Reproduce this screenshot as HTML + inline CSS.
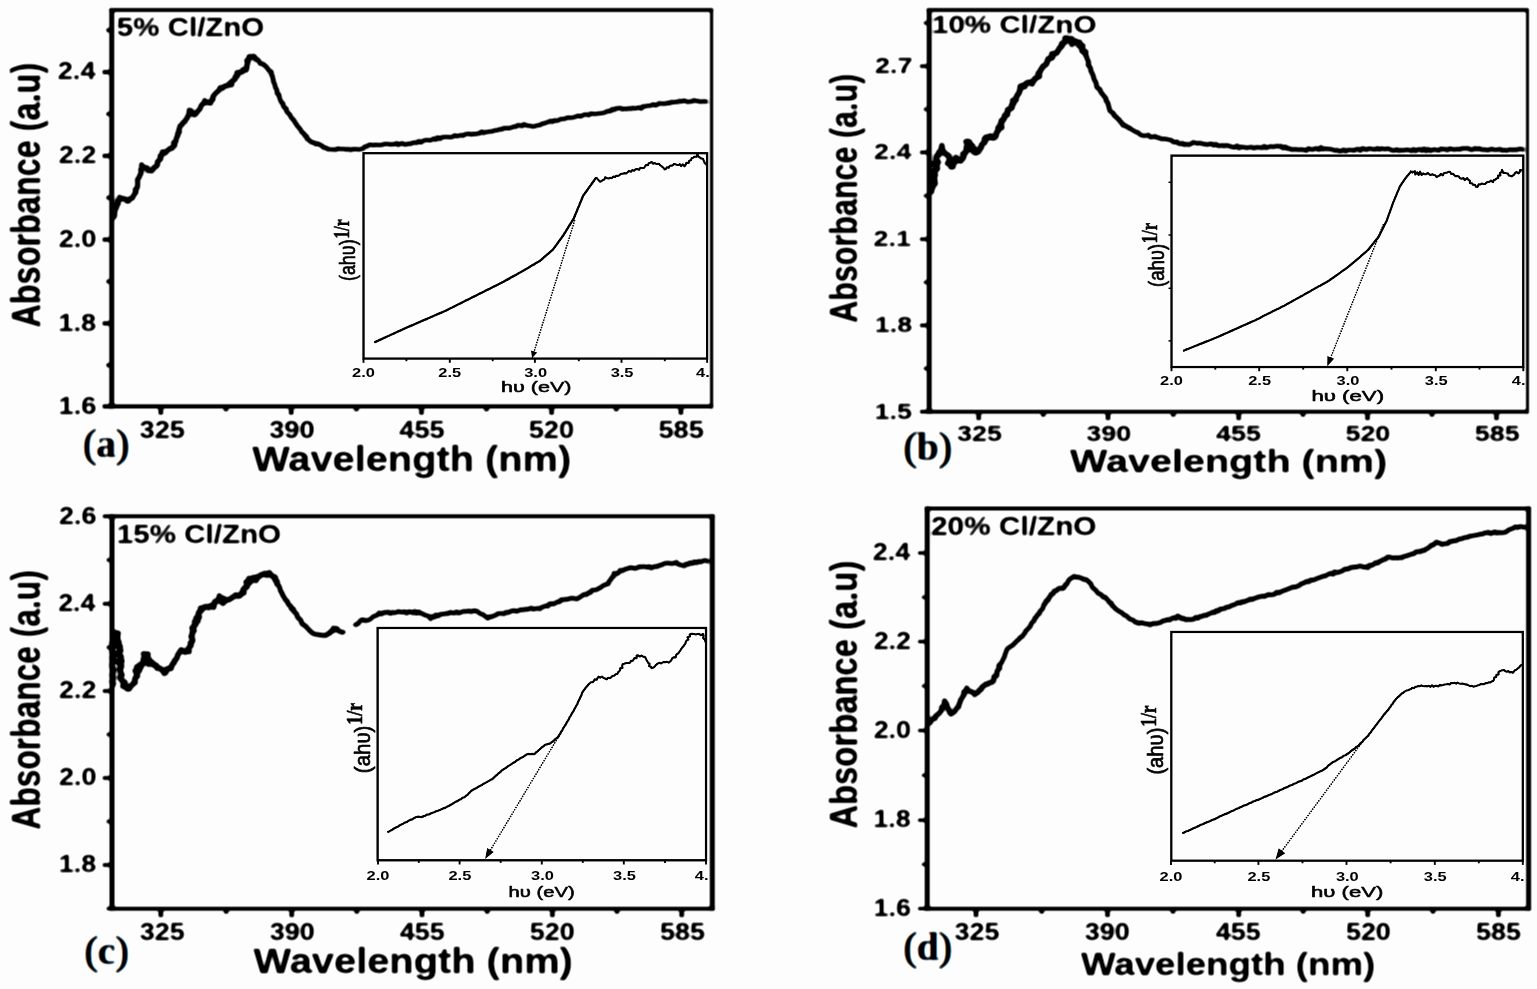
<!DOCTYPE html>
<html lang="en">
<head>
<meta charset="utf-8">
<title>UV-Vis absorbance spectra of Cl/ZnO</title>
<style>
html,body{margin:0;padding:0;background:#fdfdfd;}
body{width:1537px;height:989px;overflow:hidden;}
svg{display:block;}
text{white-space:pre;}
</style>
</head>
<body>
<svg width="1537" height="989" viewBox="0 0 1537 989">

<rect x="0" y="0" width="1537" height="989" fill="#fdfdfd"/>
<g style="filter:blur(0.9px) contrast(1.65)">
<rect x="-5" y="-5" width="1547" height="999" fill="#fdfdfd"/>
<g id="panel-a">
<polyline points="113.0,218.1 114.5,216.3 114.7,214.0 114.7,211.7 115.2,209.6 116.5,207.7 116.7,205.4 118.4,203.7 117.5,201.1 119.1,199.3 119.6,197.2 121.4,198.9 123.4,198.4 125.3,199.1 126.9,201.1 128.8,201.1 129.7,198.7 132.4,198.1 133.4,196.0 134.5,194.0 136.1,192.2 135.1,189.6 137.2,188.0 137.6,186.0 137.6,183.8 137.7,181.7 137.4,179.5 139.1,177.7 139.6,175.7 140.8,173.9 141.2,171.8 140.6,169.5 142.3,168.1 141.5,164.7 143.3,167.7 145.2,167.5 147.3,167.8 147.9,170.7 149.8,170.2 151.8,171.0 153.3,169.1 154.1,167.3 156.4,166.5 157.7,164.6 157.2,161.9 158.9,160.3 160.9,158.8 160.0,155.9 162.4,154.7 162.3,151.8 165.6,152.9 166.7,151.1 168.4,149.9 169.8,148.4 172.1,148.4 173.1,146.8 174.9,145.4 173.5,142.7 175.9,141.5 176.2,139.5 176.5,137.5 177.9,135.9 177.5,133.7 179.5,132.2 178.7,129.9 179.7,128.2 179.8,126.0 181.9,124.8 182.9,122.7 185.0,121.7 185.8,119.4 187.4,118.0 187.7,116.1 189.1,114.4 189.1,112.5 189.2,110.2 191.3,110.8 192.4,114.0 194.5,114.9 196.3,113.4 197.6,111.4 199.1,109.9 200.4,108.3 200.9,106.0 202.2,104.3 204.1,103.3 204.7,100.5 206.8,102.7 208.5,102.6 210.6,103.2 211.1,100.7 213.1,99.5 212.7,97.1 213.7,95.5 215.0,94.0 216.3,92.7 217.7,91.4 219.3,90.2 220.1,87.6 222.9,88.2 224.1,86.3 226.2,85.8 228.0,85.7 229.1,83.7 231.8,84.8 231.4,81.5 233.2,80.5 235.3,79.3 235.0,76.7 237.6,76.0 236.9,72.5 239.6,72.3 242.1,72.2 242.9,69.5 246.3,70.1 247.0,67.8 246.7,65.2 248.0,63.2 246.7,60.5 249.3,59.1 249.1,56.5 251.4,56.7 253.7,56.2 255.0,57.6 255.7,59.7" fill="none" stroke="#000" stroke-width="5.2" stroke-linejoin="round" stroke-linecap="butt"/>
<polyline points="253.7,56.2 255.0,57.6 255.7,59.7 258.2,59.8 259.1,61.5 260.2,63.7 263.0,63.8 264.6,65.5 266.4,66.8 267.7,68.7 269.0,70.6 271.5,71.9 271.1,74.2 272.5,75.9 272.6,77.9 273.4,79.8 273.3,81.9 274.5,83.6 275.1,85.5 275.2,87.5 276.6,89.1 277.1,91.0 276.9,93.3 279.1,94.5 279.2,96.6 279.8,98.5 280.5,100.4 281.3,102.2 283.1,103.5 283.2,105.8 284.3,107.6 286.5,108.6 286.4,111.1 287.7,112.7 289.4,114.1 290.5,115.8 291.2,117.7 292.7,119.0 294.1,120.5 294.9,122.4 296.2,123.9 297.1,125.7 298.5,127.1 299.8,128.6 301.0,130.3 301.8,132.4 304.0,133.4 304.6,135.5 306.8,136.5 307.0,139.0 309.1,139.9 310.4,141.5 312.1,142.3 314.1,142.7 315.8,144.2 318.2,143.6 320.0,144.9 322.0,145.8 323.6,147.5 325.9,147.8 327.8,149.0 329.8,150.0" fill="none" stroke="#000" stroke-width="4.8" stroke-linejoin="round" stroke-linecap="butt"/>
<polyline points="329.8,150.0 331.9,149.4 333.9,149.5 335.9,149.8 337.9,148.4 340.0,149.1 342.1,149.1 344.2,148.9 346.3,149.7 348.4,148.9 350.5,150.1 352.6,149.1 354.7,149.2 356.8,149.1 359.0,149.7 361.0,149.0 363.1,148.7 364.6,146.5 367.0,146.5 368.8,144.8 371.0,144.8 373.2,145.2 375.4,144.8 377.5,144.9 379.7,145.0 381.8,145.0 383.9,144.1 386.1,143.9 388.3,144.1 390.4,144.4 392.6,144.2 394.5,144.2 396.5,143.1 398.5,145.0 400.4,143.7 402.4,143.2 404.4,144.6 406.4,144.6 408.3,143.6 410.5,144.1 412.4,142.7 414.6,142.5 416.8,142.9 418.6,141.0 421.1,142.5 423.0,140.9 425.0,140.2 427.2,139.9 429.4,140.4 431.6,140.1 433.5,138.6 435.9,139.8 437.6,137.3 440.0,139.0 441.9,137.2 444.0,136.9 446.2,137.0 448.3,136.9 450.4,137.2 452.5,136.9 454.5,135.3 456.7,136.2 458.8,135.8 460.9,135.0 463.1,135.8 465.0,134.2 467.1,133.9 469.2,133.7 471.5,134.6 473.4,133.7 475.6,134.2 477.5,133.6 479.6,133.4 481.4,131.5 483.7,133.0 485.6,132.0 487.6,131.9 489.6,131.6 491.7,131.6 493.6,130.7 495.6,130.2 497.7,130.2 499.6,129.1 501.8,129.6 503.6,127.9 505.7,128.2 507.8,127.9 509.9,128.2 511.9,127.4 513.8,126.5 515.9,126.8 517.7,125.1 519.9,125.4 522.0,126.2 524.0,124.1 526.1,125.3 528.2,125.7 530.4,125.7 532.4,126.6 534.4,126.4 536.3,125.6 538.3,125.2 540.4,125.0 542.1,123.4 544.4,123.6 546.2,122.5 548.3,122.1 550.1,120.7 552.5,122.0 554.2,120.2 556.5,120.9 558.5,120.4 560.3,118.9 562.4,119.1 564.5,118.9 566.4,118.0 568.4,117.5 570.6,117.9 572.6,117.5 574.6,117.1 576.5,116.2 578.5,115.7 580.7,116.6 582.6,115.4 584.5,114.5 586.6,114.5 588.7,115.3 590.6,113.5 592.6,113.7 594.7,114.0 596.8,113.8 598.8,113.4 600.8,113.3 602.8,113.1 604.8,112.6 606.5,111.5 608.4,111.0 610.6,111.3 612.0,109.1 614.3,109.9 615.9,108.2 618.0,108.4 620.2,107.8 622.3,109.4 624.4,108.6 626.5,109.2 628.6,108.2 630.7,109.0 632.8,107.7 634.9,108.6 636.9,108.0 638.9,107.5 641.3,108.6 642.9,106.3 645.1,106.4 647.1,105.8 649.2,105.7 651.3,105.4 653.2,104.2 655.6,105.4 657.5,104.6 659.3,103.1 661.5,103.7 663.5,103.6 665.6,103.7 667.5,102.7 669.6,103.4 671.5,101.8 673.6,102.4 675.6,101.8 677.7,102.0 679.6,100.8 681.7,101.6 683.7,100.5 685.7,101.1 687.7,102.0 689.7,101.6 691.8,101.6 693.8,100.2 695.8,100.9 697.8,100.9 699.9,101.8 701.9,101.6 703.9,101.2 705.9,101.6 707.9,101.2" fill="none" stroke="#000" stroke-width="4.5" stroke-linejoin="round" stroke-linecap="butt"/>
<line x1="111.75" y1="7.90" x2="111.75" y2="408.40" stroke="#000" stroke-width="5.0" />
<line x1="711.60" y1="7.90" x2="711.60" y2="408.40" stroke="#000" stroke-width="3.2" />
<line x1="109.25" y1="10.00" x2="713.20" y2="10.00" stroke="#000" stroke-width="4.2" />
<line x1="109.25" y1="406.30" x2="713.20" y2="406.30" stroke="#000" stroke-width="4.2" />
<line x1="102.45" y1="72.10" x2="111.75" y2="72.10" stroke="#000" stroke-width="4.5" />
<line x1="102.45" y1="155.90" x2="111.75" y2="155.90" stroke="#000" stroke-width="4.5" />
<line x1="102.45" y1="239.60" x2="111.75" y2="239.60" stroke="#000" stroke-width="4.5" />
<line x1="102.45" y1="323.40" x2="111.75" y2="323.40" stroke="#000" stroke-width="4.5" />
<line x1="102.45" y1="406.40" x2="111.75" y2="406.40" stroke="#000" stroke-width="4.5" />
<line x1="106.25" y1="30.20" x2="111.75" y2="30.20" stroke="#000" stroke-width="4.05" />
<line x1="106.25" y1="114.00" x2="111.75" y2="114.00" stroke="#000" stroke-width="4.05" />
<line x1="106.25" y1="197.70" x2="111.75" y2="197.70" stroke="#000" stroke-width="4.05" />
<line x1="106.25" y1="281.50" x2="111.75" y2="281.50" stroke="#000" stroke-width="4.05" />
<line x1="106.25" y1="365.20" x2="111.75" y2="365.20" stroke="#000" stroke-width="4.05" />
<line x1="160.80" y1="406.30" x2="160.80" y2="414.80" stroke="#000" stroke-width="4.8" />
<line x1="291.20" y1="406.30" x2="291.20" y2="414.80" stroke="#000" stroke-width="4.8" />
<line x1="421.50" y1="406.30" x2="421.50" y2="414.80" stroke="#000" stroke-width="4.8" />
<line x1="551.60" y1="406.30" x2="551.60" y2="414.80" stroke="#000" stroke-width="4.8" />
<line x1="680.90" y1="406.30" x2="680.90" y2="414.80" stroke="#000" stroke-width="4.8" />
<line x1="226.00" y1="406.30" x2="226.00" y2="411.40" stroke="#000" stroke-width="4.56" />
<line x1="356.40" y1="406.30" x2="356.40" y2="411.40" stroke="#000" stroke-width="4.56" />
<line x1="486.50" y1="406.30" x2="486.50" y2="411.40" stroke="#000" stroke-width="4.56" />
<line x1="616.30" y1="406.30" x2="616.30" y2="411.40" stroke="#000" stroke-width="4.56" />
<text transform="translate(57.68,79.30) scale(1.1300,1)" font-family='"Liberation Sans", Arial, Helvetica, sans-serif' font-weight="bold" font-size="24.10" fill="#000" stroke="#000" stroke-width="0.28" stroke-linejoin="round">2.4</text>
<text transform="translate(58.64,163.10) scale(1.1300,1)" font-family='"Liberation Sans", Arial, Helvetica, sans-serif' font-weight="bold" font-size="24.10" fill="#000" stroke="#000" stroke-width="0.28" stroke-linejoin="round">2.2</text>
<text transform="translate(58.64,246.80) scale(1.1300,1)" font-family='"Liberation Sans", Arial, Helvetica, sans-serif' font-weight="bold" font-size="24.10" fill="#000" stroke="#000" stroke-width="0.28" stroke-linejoin="round">2.0</text>
<text transform="translate(58.36,330.60) scale(1.1300,1)" font-family='"Liberation Sans", Arial, Helvetica, sans-serif' font-weight="bold" font-size="24.10" fill="#000" stroke="#000" stroke-width="0.28" stroke-linejoin="round">1.8</text>
<text transform="translate(58.50,413.60) scale(1.1300,1)" font-family='"Liberation Sans", Arial, Helvetica, sans-serif' font-weight="bold" font-size="24.10" fill="#000" stroke="#000" stroke-width="0.28" stroke-linejoin="round">1.6</text>
<text transform="translate(139.53,437.80) scale(1.1300,1)" font-family='"Liberation Sans", Arial, Helvetica, sans-serif' font-weight="bold" font-size="24.10" fill="#000" stroke="#000" stroke-width="0.28" stroke-linejoin="round">325</text>
<text transform="translate(269.23,437.80) scale(1.1300,1)" font-family='"Liberation Sans", Arial, Helvetica, sans-serif' font-weight="bold" font-size="24.10" fill="#000" stroke="#000" stroke-width="0.28" stroke-linejoin="round">390</text>
<text transform="translate(399.26,437.80) scale(1.1300,1)" font-family='"Liberation Sans", Arial, Helvetica, sans-serif' font-weight="bold" font-size="24.10" fill="#000" stroke="#000" stroke-width="0.28" stroke-linejoin="round">455</text>
<text transform="translate(528.66,437.80) scale(1.1300,1)" font-family='"Liberation Sans", Arial, Helvetica, sans-serif' font-weight="bold" font-size="24.10" fill="#000" stroke="#000" stroke-width="0.28" stroke-linejoin="round">520</text>
<text transform="translate(658.46,437.80) scale(1.1300,1)" font-family='"Liberation Sans", Arial, Helvetica, sans-serif' font-weight="bold" font-size="24.10" fill="#000" stroke="#000" stroke-width="0.28" stroke-linejoin="round">585</text>
<text transform="translate(252.30,471.00) scale(1.1495,1)" font-family='"Liberation Sans", Arial, Helvetica, sans-serif' font-weight="bold" font-size="34.60" fill="#000" stroke="#000" stroke-width="0.28" stroke-linejoin="round">Wavelength (nm)</text>
<text transform="translate(116.81,36.00) scale(1.1179,1)" font-family='"Liberation Sans", Arial, Helvetica, sans-serif' font-weight="bold" font-size="26.40" fill="#000" stroke="#000" stroke-width="0.28" stroke-linejoin="round">5% Cl/ZnO</text>
<text transform="translate(40.30,327.61) rotate(-90) scale(0.7814,1)" font-family='"Liberation Sans", Arial, Helvetica, sans-serif' font-weight="bold" font-size="41.50" fill="#000" stroke="#000" stroke-width="0.45" stroke-linejoin="round">Absorbance (a.u)</text>
<text aria-hidden="true" transform="translate(82.47,456.60) scale(0.9700,1)" font-family='"Liberation Serif", "Times New Roman", Times, serif' font-weight="bold" font-size="40.70" fill="#e08a3c"><tspan font-weight="normal" stroke="#e08a3c" stroke-width="0.9" stroke-linejoin="round">(</tspan>a<tspan font-weight="normal" stroke="#e08a3c" stroke-width="0.9" stroke-linejoin="round">)</tspan></text>
<text aria-hidden="true" transform="translate(83.97,456.60) scale(0.9700,1)" font-family='"Liberation Serif", "Times New Roman", Times, serif' font-weight="bold" font-size="40.70" fill="#2b93d6"><tspan font-weight="normal" stroke="#2b93d6" stroke-width="0.9" stroke-linejoin="round">(</tspan>a<tspan font-weight="normal" stroke="#2b93d6" stroke-width="0.9" stroke-linejoin="round">)</tspan></text>
<text transform="translate(83.22,456.60) scale(0.9700,1)" font-family='"Liberation Serif", "Times New Roman", Times, serif' font-weight="bold" font-size="40.70" fill="#03060c"><tspan font-weight="normal" stroke="#03060c" stroke-width="0.9" stroke-linejoin="round">(</tspan>a<tspan font-weight="normal" stroke="#03060c" stroke-width="0.9" stroke-linejoin="round">)</tspan></text>
</g>
<g id="panel-b">
<polyline points="930.6,193.2 931.5,191.3 931.4,189.1 932.7,187.4 931.7,184.9 935.1,183.7 934.7,181.5 934.6,179.2 933.1,176.9 935.3,175.0 934.1,172.6 934.6,170.5 937.4,168.7 936.9,166.4 933.8,163.9 938.3,162.2 936.1,159.8 936.3,157.6 936.9,155.7 939.2,154.6 938.9,152.2 941.0,151.1 941.2,149.2 941.9,145.7 942.3,150.2 943.4,151.4 944.7,153.1 946.6,154.5 949.0,156.0 949.3,158.2 949.8,160.4 947.7,163.4 951.6,164.0 951.1,166.9 953.0,166.6 952.2,163.0 954.8,162.5 955.0,160.2 955.9,157.6 958.6,160.3 960.8,160.9 962.1,158.9 963.1,158.1 963.8,156.3 962.9,154.0 965.6,152.6 966.6,150.7 966.3,148.6 966.7,146.5 968.5,144.9 966.1,141.6 968.2,141.5 969.7,142.1 969.3,144.8 972.4,145.8 970.2,149.2 974.1,149.0 973.6,151.9 975.8,152.9 978.5,151.7 979.6,149.3 981.1,147.8 981.4,145.4 982.8,143.6 985.0,142.2 984.4,139.0 986.0,137.2 988.6,137.8 990.3,136.0 992.9,138.0 994.9,137.4 996.1,135.6 996.3,133.3 997.2,131.7 998.6,130.3 998.1,127.9 1001.8,127.5 1000.2,124.6 1001.7,123.0 1001.3,120.7 1003.8,119.5 1004.4,117.6 1004.6,115.4 1007.5,114.7 1007.4,112.2 1007.6,109.8 1010.0,108.9 1012.0,107.7 1011.7,104.9 1013.6,103.7 1012.7,100.6 1016.0,100.2 1016.0,97.9 1016.9,96.2 1017.8,94.4 1019.2,92.8 1019.6,90.8 1020.4,89.0 1020.2,86.5 1022.2,85.6 1024.8,86.5 1025.8,83.6 1027.7,82.7 1029.7,82.3 1032.2,83.8 1032.7,81.2 1034.2,80.4 1034.8,78.6 1037.1,77.5 1039.4,76.4 1038.2,73.4 1039.9,72.0 1040.6,70.0 1041.9,68.4 1042.9,66.4 1045.2,65.2 1046.7,63.5 1047.3,61.2 1048.1,58.9 1050.4,58.3 1052.4,57.5 1051.9,53.8 1054.4,53.6 1056.7,53.0 1057.8,51.1 1058.9,49.3 1059.9,47.4 1061.9,46.2 1061.7,43.5 1064.4,42.8 1065.5,41.0 1065.1,38.0 1067.0,38.4 1068.0,38.4 1068.4,40.4 1071.6,38.7 1072.0,44.4 1074.0,40.9 1075.7,41.1 1076.5,42.3 1079.6,42.4 1079.0,45.6 1082.7,45.8 1081.7,49.1 1082.2,51.1 1085.7,51.9 1085.0,54.5" fill="none" stroke="#000" stroke-width="5.8" stroke-linejoin="round" stroke-linecap="butt"/>
<polyline points="1085.7,51.9 1085.0,54.5 1086.6,56.2 1086.9,58.4 1087.9,60.3 1088.8,62.2 1088.0,64.8 1089.5,66.5 1090.7,68.4 1090.7,70.7 1091.8,72.6 1092.7,74.5 1093.5,76.5 1093.8,78.7 1094.8,80.6 1096.0,82.5 1096.4,84.7 1096.7,86.9 1098.2,88.4 1100.1,89.5 1100.6,91.7 1101.8,93.4 1103.1,94.9 1104.3,96.6 1106.0,98.2 1105.9,100.6 1107.6,102.2 1108.2,104.3 1108.7,106.3 1109.3,108.4 1109.7,110.6 1111.5,112.0 1113.4,113.3 1114.1,115.6 1116.1,116.7 1117.4,118.5 1119.2,119.7 1120.3,121.7 1122.0,123.0 1122.9,125.3 1125.2,125.6 1126.9,126.8 1128.8,127.7 1130.6,128.7" fill="none" stroke="#000" stroke-width="5.0" stroke-linejoin="round" stroke-linecap="butt"/>
<polyline points="1128.8,127.7 1130.6,128.7 1132.3,130.0 1134.2,130.9 1135.9,132.1 1138.1,132.3 1139.5,134.2 1141.4,135.2 1143.7,135.7 1146.1,135.6 1148.5,134.9 1150.4,137.2 1152.7,137.0 1155.0,136.1 1156.9,137.6 1159.0,137.6 1160.8,139.0 1163.0,138.9 1165.1,138.9 1167.2,139.3 1169.2,139.7 1171.3,140.0 1172.8,141.9 1174.8,142.3 1177.0,141.6 1178.5,143.6 1180.4,144.0 1182.6,143.2 1184.3,145.0 1186.5,144.0 1188.8,144.9 1190.9,144.0 1192.9,142.3 1195.2,142.8 1197.5,143.4 1199.5,142.9 1201.5,143.3 1203.5,144.1 1205.6,144.1 1207.6,144.8 1209.8,143.7 1211.8,143.9 1213.7,145.4 1216.0,144.0 1217.9,145.7 1220.0,145.9 1222.2,145.2 1224.2,146.1 1226.4,145.2 1228.5,145.7 1230.5,146.6 1232.6,147.1 1234.7,147.4 1237.0,145.7 1238.9,148.2 1241.1,146.8 1243.2,147.2 1245.3,147.4 1247.4,147.9 1249.5,147.3 1251.6,147.0 1253.7,148.3 1255.8,147.4 1257.9,147.4 1260.0,147.5 1262.1,147.9 1264.2,146.1 1266.3,147.9 1268.4,147.1 1270.5,146.3 1272.6,146.9 1274.7,146.4 1276.8,145.9 1278.9,146.4 1281.1,146.1 1282.9,148.2 1285.4,146.6 1287.2,148.6 1289.4,148.3 1291.4,149.7 1293.6,149.4 1295.8,149.2 1297.9,149.8 1300.0,149.5 1302.0,149.6 1304.1,149.8 1306.3,150.7 1308.3,148.4 1310.4,149.2 1312.6,149.6 1314.6,148.7 1316.7,148.4 1318.9,149.7 1321.0,147.3 1323.0,149.3 1325.1,148.6 1327.1,149.0 1329.2,148.9 1331.2,149.2 1333.2,149.9 1335.2,150.6 1337.3,150.1 1339.3,151.2 1341.5,151.0 1343.5,149.6 1345.7,151.3 1347.8,150.0 1349.9,150.0 1352.0,150.0 1354.1,150.6 1356.2,149.3 1358.3,149.0 1360.4,150.6 1362.4,148.3 1364.6,149.0 1366.7,149.8 1368.8,148.6 1370.9,148.8 1373.0,149.3 1375.1,149.4 1377.2,148.2 1379.3,149.6 1381.4,148.4 1383.6,149.0 1385.8,149.1 1388.1,148.5 1390.2,149.4 1392.3,150.5 1394.5,150.5 1396.7,149.4 1398.8,150.8 1400.9,150.0 1403.0,150.4 1405.1,149.9 1407.2,149.7 1409.3,150.0 1411.4,151.0 1413.5,149.1 1415.6,151.0 1417.7,149.6 1419.8,149.2 1421.9,150.7 1424.0,148.6 1426.1,150.9 1428.2,149.1 1430.4,150.8 1432.5,149.8 1434.6,149.4 1436.7,150.0 1438.9,150.4 1441.0,148.6 1443.1,149.3 1445.2,149.1 1447.4,150.2 1449.5,148.6 1451.6,149.1 1453.8,149.6 1455.9,149.3 1458.0,149.1 1460.1,149.4 1462.2,148.2 1464.4,148.5 1466.5,148.4 1468.6,148.4 1470.8,149.7 1472.9,149.7 1475.0,148.2 1477.1,149.3 1479.2,148.3 1481.3,149.6 1483.4,149.6 1485.5,149.6 1487.6,150.3 1489.7,149.5 1491.8,148.9 1493.9,149.8 1496.0,149.7 1498.1,149.6 1500.2,149.1 1502.3,150.5 1504.4,149.9 1506.5,150.6 1508.6,149.8 1510.7,149.6 1512.8,150.1 1514.8,149.6 1516.8,150.0 1518.7,149.0 1520.6,148.9 1522.7,149.5 1524.6,149.0" fill="none" stroke="#000" stroke-width="4.6" stroke-linejoin="round" stroke-linecap="butt"/>
<line x1="929.20" y1="7.90" x2="929.20" y2="413.80" stroke="#000" stroke-width="5.0" />
<line x1="1527.50" y1="7.90" x2="1527.50" y2="413.80" stroke="#000" stroke-width="3.0" />
<line x1="926.70" y1="9.90" x2="1529.00" y2="9.90" stroke="#000" stroke-width="4.0" />
<line x1="926.70" y1="411.80" x2="1529.00" y2="411.80" stroke="#000" stroke-width="4.0" />
<line x1="919.90" y1="66.20" x2="929.20" y2="66.20" stroke="#000" stroke-width="3.9" />
<line x1="919.90" y1="152.40" x2="929.20" y2="152.40" stroke="#000" stroke-width="3.9" />
<line x1="919.90" y1="239.20" x2="929.20" y2="239.20" stroke="#000" stroke-width="3.9" />
<line x1="919.90" y1="325.40" x2="929.20" y2="325.40" stroke="#000" stroke-width="3.9" />
<line x1="919.90" y1="411.70" x2="929.20" y2="411.70" stroke="#000" stroke-width="3.9" />
<line x1="923.70" y1="23.00" x2="929.20" y2="23.00" stroke="#000" stroke-width="3.51" />
<line x1="923.70" y1="109.30" x2="929.20" y2="109.30" stroke="#000" stroke-width="3.51" />
<line x1="923.70" y1="195.80" x2="929.20" y2="195.80" stroke="#000" stroke-width="3.51" />
<line x1="923.70" y1="282.30" x2="929.20" y2="282.30" stroke="#000" stroke-width="3.51" />
<line x1="923.70" y1="368.50" x2="929.20" y2="368.50" stroke="#000" stroke-width="3.51" />
<line x1="978.70" y1="411.80" x2="978.70" y2="420.20" stroke="#000" stroke-width="4.8" />
<line x1="1108.00" y1="411.80" x2="1108.00" y2="420.20" stroke="#000" stroke-width="4.8" />
<line x1="1238.70" y1="411.80" x2="1238.70" y2="420.20" stroke="#000" stroke-width="4.8" />
<line x1="1367.50" y1="411.80" x2="1367.50" y2="420.20" stroke="#000" stroke-width="4.8" />
<line x1="1496.50" y1="411.80" x2="1496.50" y2="420.20" stroke="#000" stroke-width="4.8" />
<line x1="1043.30" y1="411.80" x2="1043.30" y2="416.80" stroke="#000" stroke-width="4.56" />
<line x1="1173.30" y1="411.80" x2="1173.30" y2="416.80" stroke="#000" stroke-width="4.56" />
<line x1="1303.00" y1="411.80" x2="1303.00" y2="416.80" stroke="#000" stroke-width="4.56" />
<line x1="1432.00" y1="411.80" x2="1432.00" y2="416.80" stroke="#000" stroke-width="4.56" />
<text transform="translate(874.97,73.20) scale(1.2400,1)" font-family='"Liberation Sans", Arial, Helvetica, sans-serif' font-weight="bold" font-size="21.70" fill="#000" stroke="#000" stroke-width="0.28" stroke-linejoin="round">2.7</text>
<text transform="translate(874.03,159.40) scale(1.2400,1)" font-family='"Liberation Sans", Arial, Helvetica, sans-serif' font-weight="bold" font-size="21.70" fill="#000" stroke="#000" stroke-width="0.28" stroke-linejoin="round">2.4</text>
<text transform="translate(873.57,246.20) scale(1.2400,1)" font-family='"Liberation Sans", Arial, Helvetica, sans-serif' font-weight="bold" font-size="21.70" fill="#000" stroke="#000" stroke-width="0.28" stroke-linejoin="round">2.1</text>
<text transform="translate(874.71,332.40) scale(1.2400,1)" font-family='"Liberation Sans", Arial, Helvetica, sans-serif' font-weight="bold" font-size="21.70" fill="#000" stroke="#000" stroke-width="0.28" stroke-linejoin="round">1.8</text>
<text transform="translate(874.57,418.70) scale(1.2400,1)" font-family='"Liberation Sans", Arial, Helvetica, sans-serif' font-weight="bold" font-size="21.70" fill="#000" stroke="#000" stroke-width="0.28" stroke-linejoin="round">1.5</text>
<text transform="translate(957.00,441.10) scale(1.2400,1)" font-family='"Liberation Sans", Arial, Helvetica, sans-serif' font-weight="bold" font-size="21.70" fill="#000" stroke="#000" stroke-width="0.28" stroke-linejoin="round">325</text>
<text transform="translate(1086.30,441.10) scale(1.2400,1)" font-family='"Liberation Sans", Arial, Helvetica, sans-serif' font-weight="bold" font-size="21.70" fill="#000" stroke="#000" stroke-width="0.28" stroke-linejoin="round">390</text>
<text transform="translate(1216.03,441.10) scale(1.2400,1)" font-family='"Liberation Sans", Arial, Helvetica, sans-serif' font-weight="bold" font-size="21.70" fill="#000" stroke="#000" stroke-width="0.28" stroke-linejoin="round">455</text>
<text transform="translate(1345.43,441.10) scale(1.2400,1)" font-family='"Liberation Sans", Arial, Helvetica, sans-serif' font-weight="bold" font-size="21.70" fill="#000" stroke="#000" stroke-width="0.28" stroke-linejoin="round">520</text>
<text transform="translate(1474.73,441.10) scale(1.2400,1)" font-family='"Liberation Sans", Arial, Helvetica, sans-serif' font-weight="bold" font-size="21.70" fill="#000" stroke="#000" stroke-width="0.28" stroke-linejoin="round">585</text>
<text transform="translate(1070.10,471.90) scale(1.2844,1)" font-family='"Liberation Sans", Arial, Helvetica, sans-serif' font-weight="bold" font-size="30.80" fill="#000" stroke="#000" stroke-width="0.28" stroke-linejoin="round">Wavelength (nm)</text>
<text transform="translate(931.92,32.80) scale(1.2042,1)" font-family='"Liberation Sans", Arial, Helvetica, sans-serif' font-weight="bold" font-size="24.60" fill="#000" stroke="#000" stroke-width="0.28" stroke-linejoin="round">10% Cl/ZnO</text>
<text transform="translate(857.10,322.76) rotate(-90) scale(0.7902,1)" font-family='"Liberation Sans", Arial, Helvetica, sans-serif' font-weight="bold" font-size="38.60" fill="#000" stroke="#000" stroke-width="0.45" stroke-linejoin="round">Absorbance (a.u)</text>
<text aria-hidden="true" transform="translate(902.97,459.70) scale(0.9700,1)" font-family='"Liberation Serif", "Times New Roman", Times, serif' font-weight="bold" font-size="40.70" fill="#e08a3c"><tspan font-weight="normal" stroke="#e08a3c" stroke-width="0.9" stroke-linejoin="round">(</tspan>b<tspan font-weight="normal" stroke="#e08a3c" stroke-width="0.9" stroke-linejoin="round">)</tspan></text>
<text aria-hidden="true" transform="translate(904.47,459.70) scale(0.9700,1)" font-family='"Liberation Serif", "Times New Roman", Times, serif' font-weight="bold" font-size="40.70" fill="#2b93d6"><tspan font-weight="normal" stroke="#2b93d6" stroke-width="0.9" stroke-linejoin="round">(</tspan>b<tspan font-weight="normal" stroke="#2b93d6" stroke-width="0.9" stroke-linejoin="round">)</tspan></text>
<text transform="translate(903.72,459.70) scale(0.9700,1)" font-family='"Liberation Serif", "Times New Roman", Times, serif' font-weight="bold" font-size="40.70" fill="#03060c"><tspan font-weight="normal" stroke="#03060c" stroke-width="0.9" stroke-linejoin="round">(</tspan>b<tspan font-weight="normal" stroke="#03060c" stroke-width="0.9" stroke-linejoin="round">)</tspan></text>
</g>
<g id="panel-c">
<polyline points="112.0,685.8 113.4,683.7 112.0,681.6 112.9,679.5 113.2,677.4 112.0,675.2 113.0,673.1 113.3,671.0 113.1,668.9 112.0,666.7 112.0,664.6 112.3,662.5 114.2,660.4 112.0,658.2 112.4,656.2 114.2,654.1 112.0,651.9 112.0,649.7 112.0,647.6 114.7,646.0 112.0,643.5 113.8,641.8 114.5,639.9 115.5,638.0 114.4,635.8 113.8,633.3 115.5,632.8 118.1,633.3 117.3,636.0 117.8,638.0 116.1,640.5 118.9,642.2 116.8,644.8 120.2,646.3 119.7,648.6 120.8,650.6 118.2,653.1 118.7,655.0 121.3,656.9 120.4,659.0 121.8,660.9 118.8,663.1 121.4,665.0 121.4,667.0 119.4,669.2 120.4,671.1 120.8,673.1 122.0,675.1 119.8,677.4 121.0,679.2 122.4,681.0 124.6,682.1 123.0,686.0 125.8,687.0" fill="none" stroke="#000" stroke-width="5.8" stroke-linejoin="round" stroke-linecap="butt"/>
<polyline points="124.6,682.1 125.8,687.0 127.3,688.9 129.4,689.0 130.6,686.2 132.1,685.1 133.0,683.8 135.2,682.6 134.7,680.1 135.2,677.9 137.5,676.1 136.8,673.7 135.2,670.8 139.4,670.6 136.8,666.8 141.0,667.4 139.9,664.5 143.0,664.0 143.8,661.8 143.2,659.1 145.2,657.5 143.5,653.9 145.9,654.2 148.1,654.0 147.0,657.3 148.9,659.0 150.1,660.7 148.8,664.3 152.9,662.9 153.8,665.3 156.4,665.2 157.1,668.3 160.0,668.2 161.8,669.8 163.2,671.2 164.3,673.4 165.9,672.6 166.1,669.6 168.1,668.6 171.1,668.5 171.7,666.1 172.5,664.0 174.2,662.8 174.3,660.6 176.1,659.2 177.2,657.4 177.6,655.3 178.7,653.6 179.9,651.6 181.1,649.9 183.4,651.0 185.1,652.2 187.3,651.4 189.1,651.5 188.1,648.7 189.5,647.3 191.1,645.4 190.3,643.0 192.6,641.3 192.6,639.1 191.0,636.6 192.4,634.6 192.2,632.4 194.1,630.6 192.0,628.0 193.9,626.1 195.8,624.5 194.5,621.8 198.0,621.1 196.1,617.9 199.4,617.1 198.2,614.3 198.7,612.2 201.2,611.0 200.5,608.1 203.5,608.5 204.5,606.7 206.6,606.5 208.9,607.6 210.7,605.6 213.7,607.2 214.3,604.2 214.6,601.7 216.6,600.7 218.9,600.4 219.3,595.9 219.8,601.2 223.2,598.2 223.1,603.4 225.2,600.7 227.0,599.9 229.1,599.7 230.8,598.7 232.4,597.3 234.2,596.4 235.7,594.9 238.5,596.3 240.5,595.4 241.3,593.2 244.0,592.9 243.0,589.8 244.3,588.1 246.8,587.2 247.6,585.3 246.1,582.1 250.2,582.4 248.9,578.3 252.2,580.3 253.4,577.5 256.1,580.5 257.1,576.8 259.2,576.6 260.6,575.0 262.7,574.6 264.7,573.3 266.7,575.1 269.4,572.6 271.0,575.3 273.1,576.4 275.4,577.3 274.8,580.4" fill="none" stroke="#000" stroke-width="5.6" stroke-linejoin="round" stroke-linecap="butt"/>
<polyline points="275.4,577.3 274.8,580.4 277.5,581.3 276.6,584.1 278.7,585.4 279.5,587.3 280.2,589.3 280.6,591.4 282.1,593.0 282.5,595.1 283.8,596.7 284.7,598.5 285.7,600.2 287.5,601.4 288.0,603.6 289.2,605.1 291.0,606.3 291.2,608.7 293.7,609.3 293.8,611.7 295.6,612.8 296.9,614.4 297.2,616.6 298.3,618.2 300.1,619.4 301.2,621.0 301.6,623.3 303.3,624.7 305.2,625.7 306.7,627.3 308.1,628.9 309.5,630.4 311.1,631.9 312.8,633.2 314.5,634.1 316.6,634.4 318.6,634.7 320.6,635.0 322.6,635.2 324.5,635.4 326.4,635.2 327.8,633.7 329.9,633.3 330.7,631.3 333.2,631.0 333.3,628.0 335.1,628.6 337.0,628.5 338.3,630.8 340.4,631.7 342.9,632.1 344.3,634.0" fill="none" stroke="#000" stroke-width="5.0" stroke-linejoin="round" stroke-linecap="butt"/>
<polyline points="354.5,626.7 355.6,624.6 358.2,623.8 359.4,621.8 361.0,620.0 362.9,619.6 365.0,620.8 367.0,620.4 368.9,620.0 370.7,619.0 372.1,617.5 373.8,616.2 375.9,615.7 377.7,614.8 379.1,612.7 381.8,614.2 383.7,612.3 386.0,612.6 388.1,611.9 390.5,613.7 392.6,612.2 394.6,612.9 396.6,612.2 398.6,611.3 400.6,612.2 402.7,612.2 404.7,611.5 406.7,613.3 408.7,611.6 410.8,611.8 412.8,613.0 414.8,611.2 416.7,613.4 419.0,611.7 420.7,613.4 423.0,613.8 424.7,615.2 427.0,615.5 428.9,616.4 430.6,618.9 432.4,616.4 434.7,617.2 435.9,614.8 438.4,616.0 440.0,614.4 442.0,614.2 444.1,614.0 446.2,613.4 448.3,613.6 450.3,612.1 452.5,613.0 454.6,613.1 456.6,611.6 458.9,613.2 460.9,612.3 463.0,611.4 465.1,611.4 467.2,611.3 469.3,610.9 471.4,611.9 473.4,610.6 475.5,610.9 477.5,611.4 479.1,612.8 480.6,614.0 482.8,614.3 484.3,615.7 486.0,616.9 487.6,618.4 489.6,616.6 491.9,616.9 493.7,615.7 495.8,615.3 497.5,613.6 499.7,613.5 501.9,613.4 504.2,614.0 506.0,612.1 508.3,612.7 510.2,611.4 512.3,610.9 514.4,610.5 516.8,611.5 518.8,610.5 520.8,609.6 523.0,609.9 525.1,609.2 527.2,609.4 529.3,608.9 531.3,607.9 533.4,609.3 535.5,608.8 537.6,608.3 539.9,609.0 541.6,607.3 543.6,606.7 545.5,605.8 547.9,606.3 549.3,603.9 551.4,603.6 553.8,604.1 555.6,602.9 557.4,601.8 559.7,601.9 561.1,599.5 563.4,599.8 565.5,599.2 567.8,599.3 569.9,598.4 572.1,598.2 574.3,598.4 576.7,599.1 578.7,598.0 580.6,596.7 582.4,595.5 584.2,594.3 586.8,594.8 588.2,592.7 590.6,592.6 591.8,590.2 594.2,590.0 596.6,589.8 598.4,588.5 600.5,587.8 602.1,586.2 604.1,585.1 606.2,584.5 608.5,583.8 609.0,581.1 610.9,579.8 611.6,577.5 613.8,576.4 613.9,573.2 617.0,573.8 618.8,572.7 620.1,570.2 622.8,570.8 624.5,569.4 626.6,568.9 628.6,568.1 630.6,567.6 632.8,567.8 634.9,568.6 637.0,568.0 639.0,566.6 641.1,566.9 643.1,566.7 645.1,566.6 647.2,567.4 649.2,566.4 651.3,568.1 653.3,567.0 655.3,566.3 657.6,566.6 659.4,565.2 661.7,565.1 663.6,563.7 665.8,563.2 667.9,563.0 670.1,563.3 672.2,563.7 674.3,563.1 676.5,562.2 678.2,564.4 680.2,564.8 682.3,565.4 684.3,566.1 686.0,563.9 688.3,564.5 689.9,562.6 692.4,563.6 694.2,561.6 696.6,562.9 698.6,561.2 701.0,562.2 703.1,560.7 705.3,560.3 707.3,561.2 709.3,561.5" fill="none" stroke="#000" stroke-width="4.7" stroke-linejoin="round" stroke-linecap="butt"/>
<line x1="112.00" y1="514.30" x2="112.00" y2="910.80" stroke="#000" stroke-width="5.0" />
<line x1="712.30" y1="514.30" x2="712.30" y2="910.80" stroke="#000" stroke-width="5.0" />
<line x1="109.50" y1="516.30" x2="714.80" y2="516.30" stroke="#000" stroke-width="4.0" />
<line x1="109.50" y1="908.80" x2="714.80" y2="908.80" stroke="#000" stroke-width="4.0" />
<line x1="102.70" y1="516.30" x2="112.00" y2="516.30" stroke="#000" stroke-width="4.0" />
<line x1="102.70" y1="603.80" x2="112.00" y2="603.80" stroke="#000" stroke-width="4.0" />
<line x1="102.70" y1="691.00" x2="112.00" y2="691.00" stroke="#000" stroke-width="4.0" />
<line x1="102.70" y1="778.00" x2="112.00" y2="778.00" stroke="#000" stroke-width="4.0" />
<line x1="102.70" y1="865.00" x2="112.00" y2="865.00" stroke="#000" stroke-width="4.0" />
<line x1="106.50" y1="560.00" x2="112.00" y2="560.00" stroke="#000" stroke-width="3.6" />
<line x1="106.50" y1="647.40" x2="112.00" y2="647.40" stroke="#000" stroke-width="3.6" />
<line x1="106.50" y1="734.50" x2="112.00" y2="734.50" stroke="#000" stroke-width="3.6" />
<line x1="106.50" y1="821.50" x2="112.00" y2="821.50" stroke="#000" stroke-width="3.6" />
<line x1="106.50" y1="908.60" x2="112.00" y2="908.60" stroke="#000" stroke-width="3.6" />
<line x1="160.80" y1="908.80" x2="160.80" y2="917.20" stroke="#000" stroke-width="4.8" />
<line x1="291.70" y1="908.80" x2="291.70" y2="917.20" stroke="#000" stroke-width="4.8" />
<line x1="422.00" y1="908.80" x2="422.00" y2="917.20" stroke="#000" stroke-width="4.8" />
<line x1="552.40" y1="908.80" x2="552.40" y2="917.20" stroke="#000" stroke-width="4.8" />
<line x1="681.70" y1="908.80" x2="681.70" y2="917.20" stroke="#000" stroke-width="4.8" />
<line x1="226.20" y1="908.80" x2="226.20" y2="913.80" stroke="#000" stroke-width="4.56" />
<line x1="356.80" y1="908.80" x2="356.80" y2="913.80" stroke="#000" stroke-width="4.56" />
<line x1="487.20" y1="908.80" x2="487.20" y2="913.80" stroke="#000" stroke-width="4.56" />
<line x1="617.00" y1="908.80" x2="617.00" y2="913.80" stroke="#000" stroke-width="4.56" />
<text transform="translate(58.95,523.50) scale(1.1400,1)" font-family='"Liberation Sans", Arial, Helvetica, sans-serif' font-weight="bold" font-size="23.60" fill="#000" stroke="#000" stroke-width="0.28" stroke-linejoin="round">2.6</text>
<text transform="translate(58.14,611.00) scale(1.1400,1)" font-family='"Liberation Sans", Arial, Helvetica, sans-serif' font-weight="bold" font-size="23.60" fill="#000" stroke="#000" stroke-width="0.28" stroke-linejoin="round">2.4</text>
<text transform="translate(59.08,698.20) scale(1.1400,1)" font-family='"Liberation Sans", Arial, Helvetica, sans-serif' font-weight="bold" font-size="23.60" fill="#000" stroke="#000" stroke-width="0.28" stroke-linejoin="round">2.2</text>
<text transform="translate(59.08,785.20) scale(1.1400,1)" font-family='"Liberation Sans", Arial, Helvetica, sans-serif' font-weight="bold" font-size="23.60" fill="#000" stroke="#000" stroke-width="0.28" stroke-linejoin="round">2.0</text>
<text transform="translate(58.81,872.20) scale(1.1400,1)" font-family='"Liberation Sans", Arial, Helvetica, sans-serif' font-weight="bold" font-size="23.60" fill="#000" stroke="#000" stroke-width="0.28" stroke-linejoin="round">1.8</text>
<text transform="translate(139.80,940.00) scale(1.1400,1)" font-family='"Liberation Sans", Arial, Helvetica, sans-serif' font-weight="bold" font-size="23.60" fill="#000" stroke="#000" stroke-width="0.28" stroke-linejoin="round">325</text>
<text transform="translate(269.80,940.00) scale(1.1400,1)" font-family='"Liberation Sans", Arial, Helvetica, sans-serif' font-weight="bold" font-size="23.60" fill="#000" stroke="#000" stroke-width="0.28" stroke-linejoin="round">390</text>
<text transform="translate(399.74,940.00) scale(1.1400,1)" font-family='"Liberation Sans", Arial, Helvetica, sans-serif' font-weight="bold" font-size="23.60" fill="#000" stroke="#000" stroke-width="0.28" stroke-linejoin="round">455</text>
<text transform="translate(529.74,940.00) scale(1.1400,1)" font-family='"Liberation Sans", Arial, Helvetica, sans-serif' font-weight="bold" font-size="23.60" fill="#000" stroke="#000" stroke-width="0.28" stroke-linejoin="round">520</text>
<text transform="translate(660.04,940.00) scale(1.1400,1)" font-family='"Liberation Sans", Arial, Helvetica, sans-serif' font-weight="bold" font-size="23.60" fill="#000" stroke="#000" stroke-width="0.28" stroke-linejoin="round">585</text>
<text transform="translate(253.60,972.50) scale(1.1645,1)" font-family='"Liberation Sans", Arial, Helvetica, sans-serif' font-weight="bold" font-size="34.20" fill="#000" stroke="#000" stroke-width="0.28" stroke-linejoin="round">Wavelength (nm)</text>
<text transform="translate(116.72,542.70) scale(1.1565,1)" font-family='"Liberation Sans", Arial, Helvetica, sans-serif' font-weight="bold" font-size="25.60" fill="#000" stroke="#000" stroke-width="0.28" stroke-linejoin="round">15% Cl/ZnO</text>
<text transform="translate(40.30,829.49) rotate(-90) scale(0.7746,1)" font-family='"Liberation Sans", Arial, Helvetica, sans-serif' font-weight="bold" font-size="41.00" fill="#000" stroke="#000" stroke-width="0.45" stroke-linejoin="round">Absorbance (a.u)</text>
<text aria-hidden="true" transform="translate(83.97,963.70) scale(0.9700,1)" font-family='"Liberation Serif", "Times New Roman", Times, serif' font-weight="bold" font-size="40.70" fill="#e08a3c"><tspan font-weight="normal" stroke="#e08a3c" stroke-width="0.9" stroke-linejoin="round">(</tspan>c<tspan font-weight="normal" stroke="#e08a3c" stroke-width="0.9" stroke-linejoin="round">)</tspan></text>
<text aria-hidden="true" transform="translate(85.47,963.70) scale(0.9700,1)" font-family='"Liberation Serif", "Times New Roman", Times, serif' font-weight="bold" font-size="40.70" fill="#2b93d6"><tspan font-weight="normal" stroke="#2b93d6" stroke-width="0.9" stroke-linejoin="round">(</tspan>c<tspan font-weight="normal" stroke="#2b93d6" stroke-width="0.9" stroke-linejoin="round">)</tspan></text>
<text transform="translate(84.72,963.70) scale(0.9700,1)" font-family='"Liberation Serif", "Times New Roman", Times, serif' font-weight="bold" font-size="40.70" fill="#03060c"><tspan font-weight="normal" stroke="#03060c" stroke-width="0.9" stroke-linejoin="round">(</tspan>c<tspan font-weight="normal" stroke="#03060c" stroke-width="0.9" stroke-linejoin="round">)</tspan></text>
</g>
<g id="panel-d">
<polyline points="928.8,723.9 930.3,722.5 931.4,720.5 932.7,718.8 935.2,718.4 935.7,715.8 937.6,714.7 939.2,713.3 940.5,711.6 941.9,709.8 941.5,707.3 943.9,706.0 944.2,704.0 944.5,700.8 946.1,703.0 947.2,705.3 947.0,707.9 949.0,709.4 949.3,712.1 950.9,714.1 952.9,712.6 954.6,711.7 955.6,710.1 956.5,708.3 958.8,706.9 958.8,704.5 960.1,702.6 960.3,700.2 961.8,698.5 962.7,696.4 964.3,694.7 963.7,691.8 966.1,690.7 966.8,687.9 968.2,690.6 969.7,691.4 972.1,691.8 973.4,693.0 974.7,694.7 976.2,693.2 978.3,692.4 979.1,690.1 981.4,689.4 982.0,686.8 984.1,686.0 985.4,684.1 987.9,684.2 989.4,682.5 991.9,682.3 993.7,681.0 993.8,678.6 994.0,676.6 996.8,675.7 996.9,673.5 997.0,671.4 998.1,669.7 999.8,668.3 998.9,665.7 1000.5,664.1" fill="none" stroke="#000" stroke-width="5.2" stroke-linejoin="round" stroke-linecap="butt"/>
<polyline points="999.8,668.3 998.9,665.7 1000.5,664.1 1001.8,662.4 1002.5,660.5 1003.5,658.6 1004.6,656.8 1004.9,654.6 1005.8,652.8 1006.4,650.7 1007.3,648.8 1009.1,647.6 1010.7,646.3 1012.6,645.4 1014.0,643.8 1015.5,642.4 1016.9,640.7 1018.9,639.5 1020.0,637.5 1022.3,636.6 1023.4,634.6 1025.0,633.0 1025.7,630.8 1027.5,629.4 1028.9,627.7 1030.5,626.2 1031.1,623.9 1032.4,622.1 1034.2,620.8 1034.6,618.3 1036.5,617.0 1037.2,614.8 1039.5,613.7 1039.7,611.5 1041.3,610.1 1042.7,608.7 1043.4,606.7 1043.7,604.5 1045.6,603.4 1045.7,601.1 1048.3,600.3 1048.4,598.0 1050.2,596.9 1050.8,594.3 1053.5,593.7 1054.0,590.8 1056.8,590.7 1058.0,588.7 1060.0,588.0 1062.6,588.7 1064.3,587.5 1065.0,585.0 1067.0,584.0 1067.9,581.9 1068.9,579.9 1070.7,578.5 1072.4,577.5 1074.1,576.2 1076.3,577.4 1078.5,577.0 1080.3,577.9 1082.2,578.4 1083.8,579.7 1086.2,579.4 1087.7,580.8 1089.2,582.3 1090.9,583.6 1091.6,585.9 1092.7,587.7 1094.4,589.1 1096.1,590.4 1097.2,592.3 1098.5,593.6 1100.5,594.0 1101.9,595.4 1103.0,597.1 1105.4,597.1 1106.6,599.0 1108.2,600.4 1109.2,602.4 1111.5,603.1 1111.9,605.7 1113.9,606.7 1115.1,608.6 1116.9,609.8 1118.7,611.1 1120.7,612.2 1122.6,613.3 1124.0,615.1 1126.3,615.6 1127.8,617.1 1129.2,618.7 1131.1,619.5 1133.2,620.0 1134.6,621.7 1136.4,622.8 1137.1,622.2 1139.1,623.5 1141.5,622.6 1143.6,623.3 1145.8,623.9 1148.0,623.9 1150.2,625.1 1152.3,623.7 1154.5,623.3 1156.9,623.6 1159.0,622.8 1161.2,622.3 1163.1,620.6 1165.3,620.6 1167.2,619.5 1169.7,620.1 1171.5,618.6 1173.4,617.6 1175.8,618.5 1177.7,615.8 1179.8,617.0 1181.5,618.8 1183.7,618.1 1185.4,619.8 1187.6,619.5 1189.5,619.5 1191.7,619.6 1193.9,619.2 1195.6,617.2 1198.2,618.3 1199.9,616.3 1202.2,616.4 1204.2,615.1 1206.6,615.5 1208.4,613.9 1210.6,613.5 1212.3,612.1 1214.8,612.7 1216.2,610.5 1218.6,611.0 1220.1,608.9 1222.3,608.8 1224.5,608.7 1226.2,607.1 1228.4,607.2 1230.4,606.3 1232.2,605.1 1234.3,604.8 1236.1,603.7 1237.9,602.5 1240.4,603.2 1242.1,601.5 1244.4,601.9 1246.2,600.7 1248.3,600.4 1250.1,598.9 1252.5,599.6 1254.3,598.3 1256.4,597.8 1258.3,597.0 1260.4,596.7 1262.4,596.0 1264.7,596.6 1266.6,595.3 1268.6,594.5 1270.8,594.8 1272.9,594.6 1275.0,594.1 1276.6,592.1 1279.1,593.0 1280.9,591.8 1282.8,591.0 1284.8,590.1 1286.8,589.6 1288.7,588.6 1290.7,588.1 1292.5,586.9 1294.9,587.2 1296.9,586.4 1299.0,585.8 1300.6,584.0 1302.7,583.4 1304.7,582.6 1306.6,581.4 1309.0,581.9 1310.6,579.8 1313.0,580.1 1315.1,579.5 1317.0,578.4 1319.0,577.7 1321.1,577.1 1323.0,576.2 1325.1,576.1 1326.9,575.0 1328.7,574.0 1330.7,573.3 1333.1,574.3 1334.5,571.8 1336.9,572.6 1338.9,572.1 1340.8,571.5 1342.7,570.8 1344.4,569.1 1346.5,568.9 1348.6,569.0 1350.3,567.5 1352.4,567.5 1354.4,566.8 1356.6,567.2 1358.5,566.3 1360.4,565.8 1362.0,566.6 1363.8,567.3 1365.6,566.8 1367.9,567.8 1369.3,565.2 1371.8,565.4 1373.7,564.3 1375.3,562.6 1377.9,563.1 1379.4,561.3 1381.6,560.9 1383.2,559.3 1385.6,559.3 1387.1,557.2 1389.3,557.0 1391.4,557.7 1393.4,558.1 1395.6,557.7 1397.7,558.2 1399.7,557.5 1401.9,557.9 1403.7,556.3 1405.8,556.1 1407.9,555.4 1409.9,554.8 1411.8,553.8 1414.1,553.8 1415.7,551.9 1417.8,551.5 1420.2,551.8 1422.0,550.3 1424.4,550.7 1426.0,549.0 1427.9,548.2 1429.6,547.0 1431.0,545.2 1433.4,545.2 1434.7,543.4 1436.5,542.0 1438.4,542.9 1440.3,543.2 1441.9,544.6 1443.8,543.9 1445.8,543.6 1447.9,543.5 1449.5,541.4 1451.6,541.5 1453.5,540.6 1455.7,540.9 1457.6,540.0 1459.4,538.8 1461.6,538.9 1463.4,538.0 1465.4,537.4 1467.6,537.4 1469.5,536.1 1471.7,536.0 1473.9,535.5 1476.0,535.1 1478.1,534.8 1480.2,534.1 1482.4,534.2 1484.3,532.9 1486.5,532.9 1488.5,532.1 1490.7,533.7 1492.7,532.8 1494.7,531.7 1496.8,533.2 1498.8,532.3 1500.9,532.9 1503.0,532.6 1505.0,532.4 1506.8,531.5 1508.3,530.1 1510.1,529.3 1512.0,528.7 1513.8,527.9 1515.4,526.6 1517.7,527.7 1519.7,526.5 1521.8,526.7 1523.9,527.3 1526.0,526.8" fill="none" stroke="#000" stroke-width="4.8" stroke-linejoin="round" stroke-linecap="butt"/>
<line x1="927.20" y1="506.40" x2="927.20" y2="910.70" stroke="#000" stroke-width="5.0" />
<line x1="1528.60" y1="506.40" x2="1528.60" y2="910.70" stroke="#000" stroke-width="5.0" />
<line x1="924.70" y1="508.40" x2="1531.10" y2="508.40" stroke="#000" stroke-width="4.0" />
<line x1="924.70" y1="908.70" x2="1531.10" y2="908.70" stroke="#000" stroke-width="4.0" />
<line x1="917.90" y1="553.00" x2="927.20" y2="553.00" stroke="#000" stroke-width="3.6" />
<line x1="917.90" y1="641.60" x2="927.20" y2="641.60" stroke="#000" stroke-width="3.6" />
<line x1="917.90" y1="730.50" x2="927.20" y2="730.50" stroke="#000" stroke-width="3.6" />
<line x1="917.90" y1="820.20" x2="927.20" y2="820.20" stroke="#000" stroke-width="3.6" />
<line x1="917.90" y1="908.60" x2="927.20" y2="908.60" stroke="#000" stroke-width="3.6" />
<line x1="921.70" y1="597.30" x2="927.20" y2="597.30" stroke="#000" stroke-width="3.24" />
<line x1="921.70" y1="686.00" x2="927.20" y2="686.00" stroke="#000" stroke-width="3.24" />
<line x1="921.70" y1="775.30" x2="927.20" y2="775.30" stroke="#000" stroke-width="3.24" />
<line x1="921.70" y1="864.40" x2="927.20" y2="864.40" stroke="#000" stroke-width="3.24" />
<line x1="976.00" y1="908.70" x2="976.00" y2="917.10" stroke="#000" stroke-width="4.8" />
<line x1="1107.50" y1="908.70" x2="1107.50" y2="917.10" stroke="#000" stroke-width="4.8" />
<line x1="1238.70" y1="908.70" x2="1238.70" y2="917.10" stroke="#000" stroke-width="4.8" />
<line x1="1367.70" y1="908.70" x2="1367.70" y2="917.10" stroke="#000" stroke-width="4.8" />
<line x1="1498.40" y1="908.70" x2="1498.40" y2="917.10" stroke="#000" stroke-width="4.8" />
<line x1="1041.70" y1="908.70" x2="1041.70" y2="913.70" stroke="#000" stroke-width="4.56" />
<line x1="1173.00" y1="908.70" x2="1173.00" y2="913.70" stroke="#000" stroke-width="4.56" />
<line x1="1303.20" y1="908.70" x2="1303.20" y2="913.70" stroke="#000" stroke-width="4.56" />
<line x1="1433.00" y1="908.70" x2="1433.00" y2="913.70" stroke="#000" stroke-width="4.56" />
<text transform="translate(872.70,560.20) scale(1.1560,1)" font-family='"Liberation Sans", Arial, Helvetica, sans-serif' font-weight="bold" font-size="23.30" fill="#000" stroke="#000" stroke-width="0.28" stroke-linejoin="round">2.4</text>
<text transform="translate(873.64,648.80) scale(1.1560,1)" font-family='"Liberation Sans", Arial, Helvetica, sans-serif' font-weight="bold" font-size="23.30" fill="#000" stroke="#000" stroke-width="0.28" stroke-linejoin="round">2.2</text>
<text transform="translate(873.64,737.70) scale(1.1560,1)" font-family='"Liberation Sans", Arial, Helvetica, sans-serif' font-weight="bold" font-size="23.30" fill="#000" stroke="#000" stroke-width="0.28" stroke-linejoin="round">2.0</text>
<text transform="translate(873.37,827.40) scale(1.1560,1)" font-family='"Liberation Sans", Arial, Helvetica, sans-serif' font-weight="bold" font-size="23.30" fill="#000" stroke="#000" stroke-width="0.28" stroke-linejoin="round">1.8</text>
<text transform="translate(873.50,915.80) scale(1.1560,1)" font-family='"Liberation Sans", Arial, Helvetica, sans-serif' font-weight="bold" font-size="23.30" fill="#000" stroke="#000" stroke-width="0.28" stroke-linejoin="round">1.6</text>
<text transform="translate(954.58,939.80) scale(1.1560,1)" font-family='"Liberation Sans", Arial, Helvetica, sans-serif' font-weight="bold" font-size="23.30" fill="#000" stroke="#000" stroke-width="0.28" stroke-linejoin="round">325</text>
<text transform="translate(1084.78,939.80) scale(1.1560,1)" font-family='"Liberation Sans", Arial, Helvetica, sans-serif' font-weight="bold" font-size="23.30" fill="#000" stroke="#000" stroke-width="0.28" stroke-linejoin="round">390</text>
<text transform="translate(1215.71,939.80) scale(1.1560,1)" font-family='"Liberation Sans", Arial, Helvetica, sans-serif' font-weight="bold" font-size="23.30" fill="#000" stroke="#000" stroke-width="0.28" stroke-linejoin="round">455</text>
<text transform="translate(1345.91,939.80) scale(1.1560,1)" font-family='"Liberation Sans", Arial, Helvetica, sans-serif' font-weight="bold" font-size="23.30" fill="#000" stroke="#000" stroke-width="0.28" stroke-linejoin="round">520</text>
<text transform="translate(1476.11,939.80) scale(1.1560,1)" font-family='"Liberation Sans", Arial, Helvetica, sans-serif' font-weight="bold" font-size="23.30" fill="#000" stroke="#000" stroke-width="0.28" stroke-linejoin="round">585</text>
<text transform="translate(1081.00,974.50) scale(1.1473,1)" font-family='"Liberation Sans", Arial, Helvetica, sans-serif' font-weight="bold" font-size="32.00" fill="#000" stroke="#000" stroke-width="0.28" stroke-linejoin="round">Wavelength (nm)</text>
<text transform="translate(931.06,535.30) scale(1.1771,1)" font-family='"Liberation Sans", Arial, Helvetica, sans-serif' font-weight="bold" font-size="25.30" fill="#000" stroke="#000" stroke-width="0.28" stroke-linejoin="round">20% Cl/ZnO</text>
<text transform="translate(857.10,828.62) rotate(-90) scale(0.8500,1)" font-family='"Liberation Sans", Arial, Helvetica, sans-serif' font-weight="bold" font-size="38.60" fill="#000" stroke="#000" stroke-width="0.45" stroke-linejoin="round">Absorbance (a.u)</text>
<text aria-hidden="true" transform="translate(902.97,959.50) scale(0.9700,1)" font-family='"Liberation Serif", "Times New Roman", Times, serif' font-weight="bold" font-size="40.70" fill="#e08a3c"><tspan font-weight="normal" stroke="#e08a3c" stroke-width="0.9" stroke-linejoin="round">(</tspan>d<tspan font-weight="normal" stroke="#e08a3c" stroke-width="0.9" stroke-linejoin="round">)</tspan></text>
<text aria-hidden="true" transform="translate(904.47,959.50) scale(0.9700,1)" font-family='"Liberation Serif", "Times New Roman", Times, serif' font-weight="bold" font-size="40.70" fill="#2b93d6"><tspan font-weight="normal" stroke="#2b93d6" stroke-width="0.9" stroke-linejoin="round">(</tspan>d<tspan font-weight="normal" stroke="#2b93d6" stroke-width="0.9" stroke-linejoin="round">)</tspan></text>
<text transform="translate(903.72,959.50) scale(0.9700,1)" font-family='"Liberation Serif", "Times New Roman", Times, serif' font-weight="bold" font-size="40.70" fill="#03060c"><tspan font-weight="normal" stroke="#03060c" stroke-width="0.9" stroke-linejoin="round">(</tspan>d<tspan font-weight="normal" stroke="#03060c" stroke-width="0.9" stroke-linejoin="round">)</tspan></text>
</g>
</g>
<g style="filter:blur(0.55px) contrast(1.25)">
<rect x="363.50" y="153.20" width="343.60" height="205.40" fill="#fdfdfd" stroke="#000" stroke-width="2.3"/>
<line x1="363.50" y1="358.60" x2="363.50" y2="362.80" stroke="#000" stroke-width="1.9" />
<line x1="449.80" y1="358.60" x2="449.80" y2="362.80" stroke="#000" stroke-width="1.9" />
<line x1="534.90" y1="358.60" x2="534.90" y2="362.80" stroke="#000" stroke-width="1.9" />
<line x1="621.50" y1="358.60" x2="621.50" y2="362.80" stroke="#000" stroke-width="1.9" />
<line x1="707.10" y1="358.60" x2="707.10" y2="362.80" stroke="#000" stroke-width="1.9" />
<line x1="406.40" y1="358.60" x2="406.40" y2="361.20" stroke="#000" stroke-width="1.9" />
<line x1="492.70" y1="358.60" x2="492.70" y2="361.20" stroke="#000" stroke-width="1.9" />
<line x1="578.80" y1="358.60" x2="578.80" y2="361.20" stroke="#000" stroke-width="1.9" />
<line x1="664.80" y1="358.60" x2="664.80" y2="361.20" stroke="#000" stroke-width="1.9" />
<text transform="translate(352.10,376.50) scale(1.2100,1)" font-family='"Liberation Sans", Arial, Helvetica, sans-serif' font-weight="bold" font-size="13.60" fill="#000" >2.0</text>
<text transform="translate(438.28,376.50) scale(1.2100,1)" font-family='"Liberation Sans", Arial, Helvetica, sans-serif' font-weight="bold" font-size="13.60" fill="#000" >2.5</text>
<text transform="translate(524.19,376.50) scale(1.2100,1)" font-family='"Liberation Sans", Arial, Helvetica, sans-serif' font-weight="bold" font-size="13.60" fill="#000" >3.0</text>
<text transform="translate(610.66,376.50) scale(1.2100,1)" font-family='"Liberation Sans", Arial, Helvetica, sans-serif' font-weight="bold" font-size="13.60" fill="#000" >3.5</text>
<text transform="translate(696.05,376.50) scale(1.2100,1)" font-family='"Liberation Sans", Arial, Helvetica, sans-serif' font-weight="bold" font-size="13.60" fill="#000" >4.</text>
<text transform="translate(501.09,391.70) scale(1.4472,1)" font-family='"Liberation Sans", Arial, Helvetica, sans-serif' font-weight="normal" font-size="14.90" fill="#000" stroke="#000" stroke-width="0.55" stroke-linejoin="round">hυ (eV)</text>
<text transform="translate(354.60,281.08) rotate(-90) scale(0.8161,1)" font-family='"Liberation Sans", Arial, Helvetica, sans-serif' font-weight="normal" font-size="22.00" fill="#000" stroke="#000" stroke-width="0.7" stroke-linejoin="round">(ahυ)</text>
<text transform="translate(348.70,238.56) rotate(-90) scale(0.6841,1)" font-family='"Liberation Serif", "Times New Roman", Times, serif' font-weight="bold" font-size="23.00" fill="#000" stroke="#000" stroke-width="0.6" stroke-linejoin="round">1/r</text>
<polyline points="374.2,342.5 376.0,341.6 377.9,340.8 379.7,339.9 381.6,339.1 383.4,338.2 385.3,337.4 387.2,336.5 389.0,335.7 390.9,334.8 392.7,334.0 394.6,333.1 396.4,332.3 398.3,331.4 400.1,330.6 402.0,329.7 403.8,328.9 405.7,328.0 407.6,327.2 409.5,326.4 411.3,325.6 413.2,324.8 415.1,324.0 417.0,323.2 418.8,322.3 420.7,321.5 422.6,320.7 424.5,319.9 426.4,319.1 428.2,318.3 430.1,317.5 432.0,316.7 433.9,315.8 435.7,315.0 437.6,314.2 439.5,313.4 441.4,312.6 443.2,311.8 445.1,311.0 446.9,310.1 448.6,309.2 450.4,308.3 452.1,307.5 453.9,306.6 455.6,305.7 457.4,304.8 459.1,304.0 460.9,303.1 462.6,302.2 464.4,301.3 466.1,300.4 467.9,299.6 469.7,298.7 471.4,297.8 473.2,296.9 474.9,296.1 476.7,295.2 478.4,294.3 480.2,293.4 481.9,292.6 483.7,291.7 485.4,290.8 487.2,289.9 488.9,289.1 490.7,288.2 492.4,287.3 494.2,286.4 495.9,285.6 497.7,284.7 499.4,283.8 501.2,282.9 502.9,282.0 504.7,281.1 506.4,280.1 508.2,279.1 510.0,278.1 511.7,277.1 513.5,276.1 515.2,275.2 517.0,274.2 518.7,273.2 520.5,272.2 522.2,271.2 524.0,270.2 525.7,269.2 527.5,268.2 529.2,267.2 531.0,266.1 532.7,265.1 534.5,264.1 536.2,263.1 538.0,262.0 539.7,261.0 541.2,259.8 542.7,258.5 544.1,257.2 545.6,256.0 547.0,254.7 548.5,253.5 550.0,252.2 551.4,250.9 552.9,249.7 554.0,248.1 555.2,246.5 556.4,244.9 557.6,243.2 558.7,241.6 559.9,240.0 561.1,238.4 562.2,236.8 563.4,235.2 564.4,233.5 565.5,231.8 566.5,230.1 567.6,228.4 568.6,226.7 569.7,225.0 570.7,223.3 571.8,221.6 572.9,219.8 573.9,218.1 574.7,216.3 575.4,214.4 576.2,212.5 577.0,210.7 577.7,208.8 578.5,207.0 579.3,205.1 580.0,203.2 580.8,201.4 581.6,199.5 582.3,197.7 583.1,195.8 584.2,194.3 585.3,192.7 586.4,191.2 587.5,189.7 588.6,188.1 589.7,186.6 590.8,185.1 591.9,183.5 593.0,182.0 594.1,180.5 595.1,178.9 596.2,177.4" fill="none" stroke="#000" stroke-width="2.35" stroke-linejoin="round" stroke-linecap="butt"/>
<polyline points="596.2,177.4 597.4,178.9 598.7,180.3 600.1,181.7 601.6,181.1 602.9,179.9 604.4,179.5 605.1,177.3 607.1,178.3 608.7,178.5 610.2,177.7 611.9,178.2 613.1,176.6 615.0,177.1 616.3,175.8 618.1,175.9 619.6,175.1 620.9,173.8 622.7,173.8 624.3,173.1 626.2,173.5 627.6,172.3 628.9,171.0 630.9,171.8 632.2,170.0 634.1,170.8 635.5,169.2 637.2,169.0 639.1,169.8 640.3,167.9 642.2,168.0 644.0,168.0 645.0,166.5 645.9,165.0 648.0,165.1 648.7,163.2 650.2,162.8 651.7,162.0 653.2,163.7 654.9,163.0 656.2,164.0 657.9,163.8 659.3,164.1 660.2,165.4 661.6,166.1 662.6,167.2 663.7,168.0 664.6,169.4 665.9,169.0 666.8,167.3 668.8,167.8 669.6,166.1 671.1,165.6 672.7,165.5 673.7,164.0 675.3,164.2 676.8,164.7 678.2,165.1 679.9,164.2 681.2,166.2 682.7,164.3 684.5,166.3 685.7,164.7 686.4,162.7 688.7,162.9 689.2,160.8 691.0,160.3 691.6,158.3 693.2,157.7 694.6,156.7 696.4,156.8 697.4,154.3 698.5,156.7 699.8,157.4 701.0,158.4 703.0,158.7 703.5,160.3 704.2,161.7 704.7,163.2 706.5,163.9 706.6,165.6" fill="none" stroke="#000" stroke-width="2.1" stroke-linejoin="round" stroke-linecap="butt"/>
<line x1="574.80" y1="220.00" x2="533.69" y2="352.85" stroke="#000" stroke-width="1.5" stroke-dasharray="1.6,1.0"/>
<polygon points="532.0,358.3 531.1,350.5 537.2,352.4" fill="#000"/>
<rect x="1171.50" y="155.60" width="351.80" height="211.40" fill="#fdfdfd" stroke="#000" stroke-width="2.3"/>
<line x1="1171.50" y1="367.00" x2="1171.50" y2="371.20" stroke="#000" stroke-width="1.9" />
<line x1="1259.20" y1="367.00" x2="1259.20" y2="371.20" stroke="#000" stroke-width="1.9" />
<line x1="1347.30" y1="367.00" x2="1347.30" y2="371.20" stroke="#000" stroke-width="1.9" />
<line x1="1435.80" y1="367.00" x2="1435.80" y2="371.20" stroke="#000" stroke-width="1.9" />
<line x1="1523.30" y1="367.00" x2="1523.30" y2="371.20" stroke="#000" stroke-width="1.9" />
<line x1="1215.30" y1="367.00" x2="1215.30" y2="369.60" stroke="#000" stroke-width="1.9" />
<line x1="1303.20" y1="367.00" x2="1303.20" y2="369.60" stroke="#000" stroke-width="1.9" />
<line x1="1391.50" y1="367.00" x2="1391.50" y2="369.60" stroke="#000" stroke-width="1.9" />
<line x1="1479.50" y1="367.00" x2="1479.50" y2="369.60" stroke="#000" stroke-width="1.9" />
<line x1="1168.50" y1="182.30" x2="1171.50" y2="182.30" stroke="#000" stroke-width="1.5" />
<line x1="1168.50" y1="235.00" x2="1171.50" y2="235.00" stroke="#000" stroke-width="1.5" />
<line x1="1168.50" y1="288.30" x2="1171.50" y2="288.30" stroke="#000" stroke-width="1.5" />
<line x1="1168.50" y1="340.90" x2="1171.50" y2="340.90" stroke="#000" stroke-width="1.5" />
<text transform="translate(1160.10,385.00) scale(1.2100,1)" font-family='"Liberation Sans", Arial, Helvetica, sans-serif' font-weight="bold" font-size="13.60" fill="#000" >2.0</text>
<text transform="translate(1248.18,385.00) scale(1.2100,1)" font-family='"Liberation Sans", Arial, Helvetica, sans-serif' font-weight="bold" font-size="13.60" fill="#000" >2.5</text>
<text transform="translate(1336.49,385.00) scale(1.2100,1)" font-family='"Liberation Sans", Arial, Helvetica, sans-serif' font-weight="bold" font-size="13.60" fill="#000" >3.0</text>
<text transform="translate(1424.86,385.00) scale(1.2100,1)" font-family='"Liberation Sans", Arial, Helvetica, sans-serif' font-weight="bold" font-size="13.60" fill="#000" >3.5</text>
<text transform="translate(1511.75,385.00) scale(1.2100,1)" font-family='"Liberation Sans", Arial, Helvetica, sans-serif' font-weight="bold" font-size="13.60" fill="#000" >4.</text>
<text transform="translate(1311.44,400.50) scale(1.4921,1)" font-family='"Liberation Sans", Arial, Helvetica, sans-serif' font-weight="normal" font-size="14.90" fill="#000" stroke="#000" stroke-width="0.55" stroke-linejoin="round">hυ (eV)</text>
<text transform="translate(1164.30,287.02) rotate(-90) scale(0.8450,1)" font-family='"Liberation Sans", Arial, Helvetica, sans-serif' font-weight="normal" font-size="22.00" fill="#000" stroke="#000" stroke-width="0.7" stroke-linejoin="round">(ahυ)</text>
<text transform="translate(1156.70,243.23) rotate(-90) scale(0.7227,1)" font-family='"Liberation Serif", "Times New Roman", Times, serif' font-weight="bold" font-size="23.00" fill="#000" stroke="#000" stroke-width="0.6" stroke-linejoin="round">1/r</text>
<polyline points="1183.0,350.9 1184.8,350.2 1186.6,349.4 1188.5,348.7 1190.3,348.0 1192.1,347.3 1193.9,346.5 1195.8,345.8 1197.6,345.1 1199.4,344.3 1201.2,343.6 1203.1,342.9 1204.9,342.1 1206.7,341.4 1208.5,340.7 1210.4,340.0 1212.2,339.2 1214.0,338.5 1215.8,337.8 1217.6,337.0 1219.4,336.2 1221.2,335.4 1223.0,334.6 1224.8,333.8 1226.6,333.0 1228.4,332.2 1230.2,331.4 1232.0,330.6 1233.8,329.8 1235.6,329.0 1237.3,328.2 1239.1,327.4 1240.9,326.6 1242.7,325.8 1244.5,325.0 1246.3,324.2 1248.1,323.4 1249.9,322.6 1251.7,321.8 1253.5,321.0 1255.3,320.2 1257.1,319.3 1258.9,318.4 1260.7,317.4 1262.5,316.5 1264.3,315.6 1266.1,314.7 1267.9,313.8 1269.7,312.9 1271.5,312.0 1273.3,311.1 1275.1,310.2 1276.9,309.3 1278.8,308.4 1280.6,307.5 1282.4,306.6 1284.2,305.7 1285.9,304.8 1287.6,303.8 1289.2,302.9 1290.9,301.9 1292.6,301.0 1294.3,300.1 1296.0,299.1 1297.7,298.2 1299.4,297.3 1301.1,296.3 1302.8,295.4 1304.4,294.4 1306.1,293.5 1307.8,292.6 1309.6,291.6 1311.3,290.6 1313.1,289.6 1314.8,288.6 1316.6,287.6 1318.3,286.6 1320.1,285.7 1321.8,284.7 1323.6,283.7 1325.3,282.7 1327.1,281.7 1328.9,280.7 1330.5,279.5 1332.2,278.3 1333.9,277.2 1335.5,276.0 1337.2,274.8 1338.9,273.6 1340.6,272.4 1342.2,271.2 1343.9,270.0 1345.6,268.8 1347.2,267.6 1348.8,266.3 1350.3,265.1 1351.8,263.9 1353.3,262.6 1354.8,261.4 1356.3,260.1 1357.8,258.9 1359.3,257.6 1360.8,256.2 1362.3,254.9 1363.8,253.6 1365.3,252.3 1366.8,251.0 1368.3,249.7 1369.6,248.0 1370.9,246.4 1372.2,244.7 1373.5,243.1 1374.8,241.5 1376.2,239.8 1377.5,238.2 1378.8,236.5 1379.7,234.8 1380.5,233.0 1381.4,231.3 1382.3,229.5 1383.2,227.8 1384.0,226.0 1384.9,224.3 1385.8,222.5 1386.7,220.8 1387.3,218.9 1388.0,217.1 1388.6,215.2 1389.3,213.4 1390.0,211.6 1390.6,209.7 1391.3,207.9 1391.9,206.0 1392.6,204.2 1393.2,202.4 1394.0,200.6 1394.7,198.9 1395.4,197.1 1396.2,195.4 1396.9,193.6 1397.6,191.9 1398.4,190.1 1399.1,188.3 1399.8,186.6 1400.9,185.0 1401.9,183.4 1403.0,181.9 1404.0,180.3 1405.1,178.7 1406.4,177.1 1407.7,175.6 1409.0,174.0 1410.3,172.4 1411.6,170.8" fill="none" stroke="#000" stroke-width="2.25" stroke-linejoin="round" stroke-linecap="butt"/>
<polyline points="1411.6,170.8 1412.3,172.6 1414.9,171.2 1415.3,174.5 1417.3,172.3 1418.6,175.0 1420.1,171.7 1421.6,175.0 1423.1,173.4 1424.5,174.3 1426.0,174.3 1427.8,172.9 1429.1,174.1 1430.5,175.1 1432.3,174.3 1433.7,175.0 1435.2,175.2 1436.6,177.1 1438.2,176.1 1439.7,175.6 1440.8,173.8 1442.9,175.4 1443.9,173.2 1445.3,172.7 1447.0,172.7 1448.4,171.9 1450.1,171.9 1451.2,173.9 1453.1,173.7 1454.2,175.1 1455.5,176.3 1457.3,176.1 1458.9,176.5 1459.9,178.3 1461.5,178.7 1463.5,178.1 1464.6,180.1 1467.2,178.1 1468.3,179.8 1469.8,180.6 1469.9,183.2 1472.1,183.3 1473.1,184.8 1475.0,184.9 1476.0,186.8 1477.6,186.9 1478.6,184.3 1480.4,184.5 1481.7,183.5 1483.6,184.0 1485.3,183.9 1486.5,182.5 1488.0,182.0 1489.6,181.8 1490.9,180.6 1493.0,182.2 1493.9,179.7 1495.5,179.7 1496.4,178.5 1498.3,177.9 1497.9,175.6 1500.5,175.5 1499.8,173.0 1501.5,172.3 1502.1,169.8 1503.3,173.0 1504.8,172.8 1506.3,173.3 1508.0,173.6 1508.8,175.5 1510.2,175.7 1511.7,176.4 1513.1,175.4 1514.3,174.4 1515.2,172.9 1516.4,172.0 1518.6,173.3 1519.7,172.0 1520.2,169.9 1522.2,170.5 1523.3,169.5" fill="none" stroke="#000" stroke-width="2.1" stroke-linejoin="round" stroke-linecap="butt"/>
<line x1="1383.50" y1="224.00" x2="1330.24" y2="358.76" stroke="#000" stroke-width="1.5" stroke-dasharray="1.6,1.0"/>
<polygon points="1327.3,366.2 1327.4,356.0 1334.1,358.7" fill="#000"/>
<rect x="377.60" y="628.00" width="328.40" height="232.30" fill="#fdfdfd" stroke="#000" stroke-width="2.3"/>
<line x1="378.00" y1="860.30" x2="378.00" y2="864.50" stroke="#000" stroke-width="1.9" />
<line x1="459.60" y1="860.30" x2="459.60" y2="864.50" stroke="#000" stroke-width="1.9" />
<line x1="541.80" y1="860.30" x2="541.80" y2="864.50" stroke="#000" stroke-width="1.9" />
<line x1="623.80" y1="860.30" x2="623.80" y2="864.50" stroke="#000" stroke-width="1.9" />
<line x1="706.00" y1="860.30" x2="706.00" y2="864.50" stroke="#000" stroke-width="1.9" />
<line x1="418.80" y1="860.30" x2="418.80" y2="862.90" stroke="#000" stroke-width="1.9" />
<line x1="500.70" y1="860.30" x2="500.70" y2="862.90" stroke="#000" stroke-width="1.9" />
<line x1="582.80" y1="860.30" x2="582.80" y2="862.90" stroke="#000" stroke-width="1.9" />
<line x1="665.00" y1="860.30" x2="665.00" y2="862.90" stroke="#000" stroke-width="1.9" />
<text transform="translate(366.60,880.00) scale(1.2100,1)" font-family='"Liberation Sans", Arial, Helvetica, sans-serif' font-weight="bold" font-size="13.60" fill="#000" >2.0</text>
<text transform="translate(448.48,880.00) scale(1.2100,1)" font-family='"Liberation Sans", Arial, Helvetica, sans-serif' font-weight="bold" font-size="13.60" fill="#000" >2.5</text>
<text transform="translate(530.99,880.00) scale(1.2100,1)" font-family='"Liberation Sans", Arial, Helvetica, sans-serif' font-weight="bold" font-size="13.60" fill="#000" >3.0</text>
<text transform="translate(613.06,880.00) scale(1.2100,1)" font-family='"Liberation Sans", Arial, Helvetica, sans-serif' font-weight="bold" font-size="13.60" fill="#000" >3.5</text>
<text transform="translate(694.75,880.00) scale(1.2100,1)" font-family='"Liberation Sans", Arial, Helvetica, sans-serif' font-weight="bold" font-size="13.60" fill="#000" >4.</text>
<text transform="translate(508.58,897.40) scale(1.3573,1)" font-family='"Liberation Sans", Arial, Helvetica, sans-serif' font-weight="normal" font-size="14.90" fill="#000" stroke="#000" stroke-width="0.55" stroke-linejoin="round">hυ (eV)</text>
<text transform="translate(369.80,773.13) rotate(-90) scale(0.9298,1)" font-family='"Liberation Sans", Arial, Helvetica, sans-serif' font-weight="normal" font-size="22.00" fill="#000" stroke="#000" stroke-width="0.7" stroke-linejoin="round">(ahυ)</text>
<text transform="translate(362.20,724.84) rotate(-90) scale(0.7845,1)" font-family='"Liberation Serif", "Times New Roman", Times, serif' font-weight="bold" font-size="23.00" fill="#000" stroke="#000" stroke-width="0.6" stroke-linejoin="round">1/r</text>
<polyline points="387.3,832.3 389.1,831.4 390.8,830.4 392.6,829.5 394.2,828.3 396.0,827.4 397.9,826.7 399.5,825.4 401.3,824.6 403.1,823.7 404.8,822.6 406.8,822.0 408.5,820.9 410.2,819.9 412.2,819.4 413.9,818.2 415.7,817.3 417.6,816.7 419.5,816.8 421.5,817.1 423.3,816.4 425.2,815.8 426.8,814.7 428.9,814.5 430.6,813.5 432.4,812.7 434.2,812.2 436.0,811.3 437.9,810.8 439.7,810.0 441.5,809.3 443.2,808.4 445.1,807.9 446.8,806.8 448.7,806.0 450.4,805.0 452.2,804.0 453.9,802.9 455.6,801.8 457.5,801.1 459.1,799.8 461.0,799.2 462.5,797.8 464.5,797.2 466.0,795.8 467.6,794.9 468.7,793.3 470.1,792.1 471.4,790.7 473.1,789.7 474.9,788.8 476.7,787.9 478.4,786.7 480.2,785.8 482.0,785.0 483.6,783.7 485.4,782.9 487.2,781.9 488.9,780.9 490.6,779.8 492.5,779.1 493.9,777.6 495.3,776.2 496.9,775.0 498.3,773.5 499.9,772.4 501.3,770.9 502.9,769.7 504.7,768.6 506.5,767.5 508.1,766.1 510.0,765.1 511.7,763.9 513.5,762.8 515.3,761.7 516.9,760.3 518.8,759.4 520.5,758.1 522.5,757.3 524.2,756.1 526.0,754.8 527.9,753.9 530.1,754.1 532.3,753.8 534.5,754.1 535.9,752.5 537.5,751.4 538.9,750.0 540.5,748.7 541.9,747.2 543.6,746.3 545.0,744.8 546.8,744.4 548.5,743.9 550.2,743.4 551.8,742.1 553.5,741.0 554.9,739.4 556.6,738.2 558.2,737.0 559.0,735.2 560.3,733.8 560.9,731.9 562.3,730.5 562.9,728.7 564.0,727.1 565.0,725.5 566.1,724.0 566.8,722.1 568.0,720.6 569.0,718.9 569.6,717.1 570.9,715.6 571.7,713.8 572.7,712.2 573.8,710.6 574.6,708.8 575.5,707.2 576.4,705.5 577.5,703.8 578.0,701.8 579.1,700.1 579.9,698.3 580.7,696.5 581.6,694.7 582.1,692.8 583.2,691.1 584.4,689.5 585.6,687.8 587.1,686.3 588.3,684.7 589.7,683.2" fill="none" stroke="#000" stroke-width="2.2" stroke-linejoin="round" stroke-linecap="butt"/>
<polyline points="589.7,683.2 590.9,682.2 592.7,682.2 593.8,681.0 594.6,679.4 596.7,679.8 597.5,678.2 598.6,676.7 600.2,677.7 602.0,676.5 603.5,677.9 605.1,678.5 606.8,679.4 608.0,677.7 610.0,678.1 611.4,677.1 612.6,675.8 614.4,675.6 615.6,674.3 617.4,673.9 618.1,672.1 619.3,671.4 620.0,670.0 620.2,668.4 622.5,667.9 622.2,666.0 622.6,664.3 624.0,663.8 625.5,663.2 627.3,663.0 629.0,663.0 630.3,662.5 630.9,660.9 632.8,660.8 633.6,659.4 634.4,658.1 636.6,658.2 636.6,655.6 638.2,655.4 639.9,656.5 641.7,655.5 643.2,656.7 644.8,656.9 645.8,658.3 646.5,659.9 647.3,661.3 648.2,662.8 649.6,663.9 649.1,666.2 651.1,666.7 651.5,668.2 652.8,667.7 654.4,667.0 655.4,665.6 656.6,664.4 658.0,663.4 659.4,662.8 661.1,663.5 662.5,662.5 663.9,662.1 665.5,662.1 666.9,661.8 668.7,662.6 670.1,661.5 671.3,660.2 672.1,658.4 673.5,657.4 675.7,657.4 676.0,655.2 677.1,654.0 678.6,653.1 679.4,651.7 680.4,650.3 681.3,648.9 682.1,647.5 683.4,646.4 684.2,645.0 685.4,643.8 685.7,642.0 686.6,640.5 688.4,639.6 687.5,637.2 689.9,636.6 689.7,634.4 691.1,633.9 692.5,633.7 694.1,634.0 695.8,634.4 697.5,634.0 699.2,633.9 700.8,635.2 703.1,634.0 703.6,635.9 703.1,637.9 704.3,639.2 705.5,640.6 705.3,642.4" fill="none" stroke="#000" stroke-width="2.1" stroke-linejoin="round" stroke-linecap="butt"/>
<line x1="559.20" y1="735.50" x2="489.73" y2="851.28" stroke="#000" stroke-width="1.5" stroke-dasharray="1.6,1.0"/>
<polygon points="485.1,859.0 487.2,848.0 493.8,852.0" fill="#000"/>
<rect x="1171.30" y="632.00" width="351.50" height="228.70" fill="#fdfdfd" stroke="#000" stroke-width="2.3"/>
<line x1="1171.00" y1="860.70" x2="1171.00" y2="864.90" stroke="#000" stroke-width="1.9" />
<line x1="1258.40" y1="860.70" x2="1258.40" y2="864.90" stroke="#000" stroke-width="1.9" />
<line x1="1346.50" y1="860.70" x2="1346.50" y2="864.90" stroke="#000" stroke-width="1.9" />
<line x1="1434.80" y1="860.70" x2="1434.80" y2="864.90" stroke="#000" stroke-width="1.9" />
<line x1="1522.80" y1="860.70" x2="1522.80" y2="864.90" stroke="#000" stroke-width="1.9" />
<line x1="1214.70" y1="860.70" x2="1214.70" y2="863.30" stroke="#000" stroke-width="1.9" />
<line x1="1302.50" y1="860.70" x2="1302.50" y2="863.30" stroke="#000" stroke-width="1.9" />
<line x1="1390.60" y1="860.70" x2="1390.60" y2="863.30" stroke="#000" stroke-width="1.9" />
<line x1="1478.80" y1="860.70" x2="1478.80" y2="863.30" stroke="#000" stroke-width="1.9" />
<text transform="translate(1159.60,880.50) scale(1.2100,1)" font-family='"Liberation Sans", Arial, Helvetica, sans-serif' font-weight="bold" font-size="13.60" fill="#000" >2.0</text>
<text transform="translate(1247.48,880.50) scale(1.2100,1)" font-family='"Liberation Sans", Arial, Helvetica, sans-serif' font-weight="bold" font-size="13.60" fill="#000" >2.5</text>
<text transform="translate(1335.89,880.50) scale(1.2100,1)" font-family='"Liberation Sans", Arial, Helvetica, sans-serif' font-weight="bold" font-size="13.60" fill="#000" >3.0</text>
<text transform="translate(1423.86,880.50) scale(1.2100,1)" font-family='"Liberation Sans", Arial, Helvetica, sans-serif' font-weight="bold" font-size="13.60" fill="#000" >3.5</text>
<text transform="translate(1510.75,880.50) scale(1.2100,1)" font-family='"Liberation Sans", Arial, Helvetica, sans-serif' font-weight="bold" font-size="13.60" fill="#000" >4.</text>
<text transform="translate(1311.05,897.40) scale(1.4857,1)" font-family='"Liberation Sans", Arial, Helvetica, sans-serif' font-weight="normal" font-size="14.90" fill="#000" stroke="#000" stroke-width="0.55" stroke-linejoin="round">hυ (eV)</text>
<text transform="translate(1163.30,774.61) rotate(-90) scale(0.9194,1)" font-family='"Liberation Sans", Arial, Helvetica, sans-serif' font-weight="normal" font-size="22.00" fill="#000" stroke="#000" stroke-width="0.7" stroke-linejoin="round">(ahυ)</text>
<text transform="translate(1155.70,726.80) rotate(-90) scale(0.7614,1)" font-family='"Liberation Serif", "Times New Roman", Times, serif' font-weight="bold" font-size="23.00" fill="#000" stroke="#000" stroke-width="0.6" stroke-linejoin="round">1/r</text>
<polyline points="1182.2,833.3 1184.1,832.6 1185.8,831.5 1187.9,831.0 1189.7,830.1 1191.6,829.3 1193.4,828.3 1195.3,827.6 1197.1,826.6 1199.0,825.9 1200.8,824.8 1202.8,824.3 1204.6,823.3 1206.5,822.4 1208.4,821.7 1210.3,821.0 1212.1,820.0 1214.1,819.4 1215.9,818.5 1217.8,817.6 1219.5,816.5 1221.4,815.7 1223.3,814.9 1225.2,814.1 1227.2,813.4 1229.0,812.5 1230.9,811.6 1232.8,810.8 1234.6,809.9 1236.4,808.9 1238.4,808.3 1240.2,807.2 1242.1,806.5 1243.9,805.5 1245.9,805.1 1247.7,804.3 1249.4,803.1 1251.4,802.7 1253.1,801.5 1255.0,801.0 1256.8,800.1 1258.8,799.6 1260.5,798.7 1262.4,798.0 1264.1,796.9 1266.1,796.4 1267.9,795.5 1269.7,794.7 1271.6,794.1 1273.4,793.1 1275.2,792.2 1277.1,791.7 1278.9,790.7 1280.7,789.8 1282.7,789.2 1284.4,788.0 1286.5,787.4 1288.3,786.5 1290.1,785.5 1292.1,785.0 1293.8,783.8 1295.9,783.3 1297.6,782.2 1299.5,781.3 1301.6,780.9 1303.2,779.5 1305.2,778.9 1307.0,778.0 1308.8,777.0 1310.7,776.2 1312.5,775.2 1314.4,774.4 1316.2,773.4 1318.0,772.4 1319.9,771.5 1321.8,770.8 1323.6,769.7 1325.2,768.5 1326.9,767.3 1328.1,765.6 1329.9,764.5 1331.5,763.2 1333.1,762.0 1335.1,761.3 1336.7,760.0 1338.5,759.0 1340.2,757.9 1342.1,757.3 1343.6,755.7 1345.6,755.2 1347.3,754.0 1348.9,753.0 1350.3,751.7 1351.7,750.5 1353.3,749.5 1354.9,748.5 1356.1,747.0 1357.9,746.3 1359.3,744.6 1360.7,743.0 1362.5,741.8 1363.6,739.9 1365.2,738.5 1366.7,737.0 1368.3,735.6 1369.3,733.8 1370.7,732.5 1371.7,730.8 1372.9,729.2 1374.2,727.7 1375.3,726.0 1376.6,724.6 1377.7,722.9 1378.9,721.4 1380.2,719.7 1381.5,718.1 1382.7,716.3 1383.9,714.6 1385.4,713.1 1386.7,711.4 1388.2,709.9 1389.3,708.1 1390.5,706.7 1391.4,705.0 1392.8,703.7 1393.6,702.0 1394.9,700.6 1395.9,699.0 1397.3,697.7 1398.9,696.4 1400.3,695.0 1401.8,693.5 1403.6,692.5 1405.1,691.1" fill="none" stroke="#000" stroke-width="2.2" stroke-linejoin="round" stroke-linecap="butt"/>
<polyline points="1405.1,691.1 1406.6,690.5 1408.1,690.2 1409.5,689.5 1411.1,689.1 1412.2,687.7 1414.1,688.2 1415.2,686.8 1416.9,686.7 1418.2,686.0 1419.8,686.3 1421.3,685.4 1422.8,685.9 1424.3,686.3 1425.9,686.0 1427.4,686.4 1428.9,685.8 1430.5,686.8 1432.0,685.3 1433.5,686.8 1435.1,685.9 1436.6,685.8 1438.3,686.4 1439.7,685.1 1441.4,685.4 1443.0,685.0 1444.6,684.5 1446.3,684.3 1447.9,683.9 1449.6,684.6 1451.0,683.0 1452.7,683.3 1454.3,682.7 1456.1,683.6 1457.6,682.5 1459.1,683.5 1460.7,683.8 1462.4,683.6 1464.0,684.0 1465.5,684.4 1467.2,684.6 1468.6,685.4 1470.1,686.1 1471.8,685.8 1473.4,686.7 1475.0,686.3 1476.5,685.9 1478.0,685.3 1479.5,684.9 1480.9,684.0 1482.6,684.1 1484.2,684.1 1485.6,683.1 1487.3,683.3 1488.6,682.2 1490.4,682.5 1491.5,681.5 1493.2,680.9 1494.0,679.4 1494.3,677.5 1496.2,676.9 1496.4,674.9 1498.6,674.5 1498.4,672.2 1499.8,671.2 1501.2,670.6 1502.5,670.3 1504.1,670.1 1505.4,671.2 1506.8,671.7 1508.5,671.1 1509.8,672.5 1511.3,671.9 1512.8,672.7 1513.9,671.5 1514.8,670.3 1516.3,669.7 1517.4,668.7 1518.7,667.8 1519.7,666.7 1520.6,665.4 1522.0,664.8" fill="none" stroke="#000" stroke-width="2.1" stroke-linejoin="round" stroke-linecap="butt"/>
<line x1="1361.00" y1="743.70" x2="1281.14" y2="851.96" stroke="#000" stroke-width="1.5" stroke-dasharray="1.6,1.0"/>
<polygon points="1275.5,859.6 1278.7,848.3 1285.3,853.2" fill="#000"/>
</g>
<rect x="0" y="0" width="1537" height="989" fill="#fdfdfd" style="mix-blend-mode:darken" pointer-events="none"/>
</svg>
</body>
</html>
